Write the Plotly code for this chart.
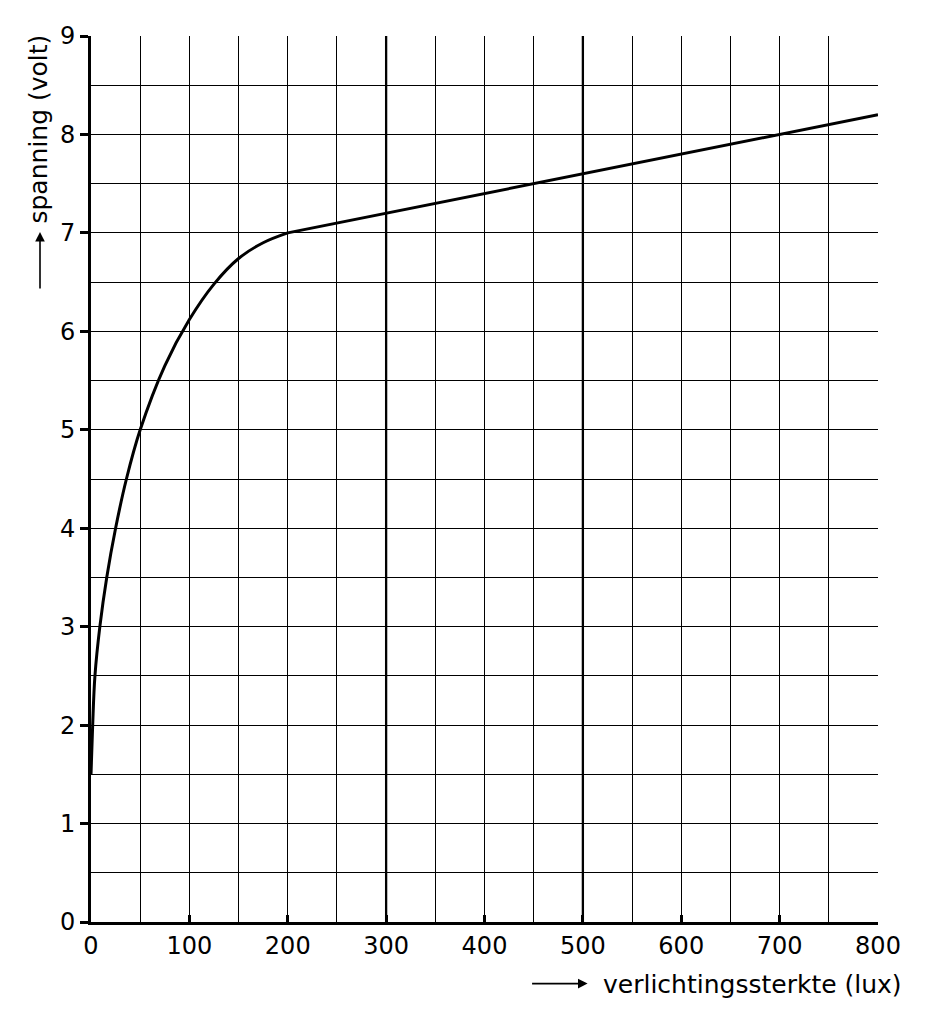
import plotly.graph_objects as go

# Data
curve_lux = [0, 1.7, 4, 9, 16, 25, 36, 50, 75, 100, 125, 150, 175, 200]
curve_volt = [1.5, 2.0, 2.5, 3.0, 3.5, 4.0, 4.5, 5.0, 5.65, 6.12, 6.48, 6.74, 6.9, 7.0]
line_lux = [200, 800]
line_volt = [7.0, 8.2]
x_tick_vals = [0, 100, 200, 300, 400, 500, 600, 700, 800]
y_tick_vals = [0, 1, 2, 3, 4, 5, 6, 7, 8, 9]
emphasized_lux = [300, 500]

FONT = "DejaVu Sans, sans-serif"

fig = go.Figure()
fig.add_trace(go.Scatter(x=curve_lux, y=curve_volt, mode="lines",
                         line=dict(color="black", width=3, shape="spline", smoothing=1.0),
                         showlegend=False, hoverinfo="skip"))
fig.add_trace(go.Scatter(x=line_lux, y=line_volt, mode="lines",
                         line=dict(color="black", width=3),
                         showlegend=False, hoverinfo="skip"))

for xv in emphasized_lux:
    fig.add_vline(x=xv, line=dict(color="black", width=2.3), layer="below")

fig.update_layout(
    width=928, height=1020,
    margin=dict(l=83, r=58, t=28, b=106),
    paper_bgcolor="white", plot_bgcolor="white",
    font=dict(family=FONT, size=24, color="black"),
)
fig.update_xaxes(
    range=[0, 800], tickvals=x_tick_vals, ticktext=[str(v) for v in x_tick_vals],
    showgrid=True, gridcolor="black", gridwidth=1.3,
    minor=dict(dtick=50, showgrid=True, gridcolor="black", gridwidth=1.3),
    showline=True, linecolor="black", linewidth=2.6,
    ticks="inside", ticklen=7, tickwidth=2.5, tickcolor="black",
    zeroline=False, fixedrange=True, tickfont=dict(size=24),
)
fig.update_yaxes(
    range=[0, 9], tickvals=y_tick_vals, ticktext=[str(v) for v in y_tick_vals],
    showgrid=True, gridcolor="black", gridwidth=1.3,
    minor=dict(dtick=0.5, showgrid=True, gridcolor="black", gridwidth=1.3),
    showline=True, linecolor="black", linewidth=2.6,
    ticks="outside", ticklen=8, tickwidth=2.5, tickcolor="black",
    zeroline=False, fixedrange=True, tickfont=dict(size=24),
)

# Axis titles with arrows
fig.add_annotation(xref="paper", yref="paper", x=1.033, y=-0.070,
                   xanchor="right", yanchor="middle", showarrow=False,
                   text="verlichtingssterkte (lux)", font=dict(size=25))
fig.add_annotation(xref="paper", yref="paper", x=0.631, y=-0.0695,
                   ax=-57, ay=0, axref="pixel", ayref="pixel",
                   text="", showarrow=True, arrowhead=2, arrowsize=1.2,
                   arrowwidth=1.6, arrowcolor="black")
fig.add_annotation(xref="paper", yref="paper", x=-0.0673, y=1.0034,
                   xanchor="center", yanchor="top", showarrow=False,
                   text="spanning (volt)", textangle=-90, font=dict(size=25))
fig.add_annotation(xref="paper", yref="paper", x=-0.0648, y=0.7788,
                   ax=0, ay=58, axref="pixel", ayref="pixel",
                   text="", showarrow=True, arrowhead=2, arrowsize=1.2,
                   arrowwidth=1.6, arrowcolor="black")

fig.write_html("out.html")
